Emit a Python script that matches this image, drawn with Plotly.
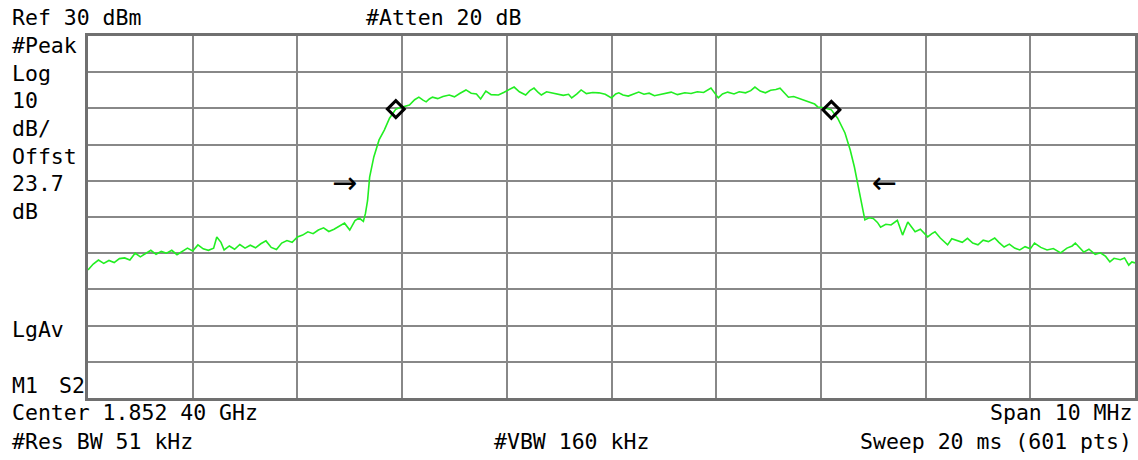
import plotly.graph_objects as go

# ---- data (frequency offset from center, MHz ; level, dBm) ----
freq_mhz = [
    -5.00, -4.95, -4.90, -4.85, -4.80, -4.75, -4.70, -4.65, -4.60, -4.55,
    -4.50, -4.45, -4.40, -4.35, -4.30, -4.25, -4.20, -4.15, -4.10, -4.05,
    -4.00, -3.95, -3.90, -3.85, -3.80, -3.77, -3.73, -3.70, -3.65, -3.60,
    -3.55, -3.50, -3.45, -3.40, -3.35, -3.30, -3.25, -3.20, -3.15, -3.10,
    -3.05, -3.00, -2.95, -2.90, -2.85, -2.80, -2.75, -2.70, -2.65, -2.60,
    -2.55, -2.50, -2.45, -2.41, -2.37, -2.35, -2.33, -2.31, -2.27, -2.22,
    -2.17, -2.12, -2.06, -2.03, -1.98, -1.93, -1.88, -1.84, -1.80, -1.77,
    -1.74, -1.71, -1.66, -1.61, -1.55, -1.50, -1.45, -1.39, -1.34, -1.29,
    -1.25, -1.20, -1.15, -1.08, -1.03, -0.98, -0.93, -0.88, -0.82, -0.78,
    -0.74, -0.70, -0.67, -0.62, -0.57, -0.52, -0.46, -0.41, -0.38, -0.33,
    -0.29, -0.24, -0.18, -0.12, -0.06, 0.00, 0.04, 0.07, 0.11, 0.16,
    0.21, 0.26, 0.31, 0.36, 0.41, 0.45, 0.51, 0.57, 0.63, 0.70,
    0.76, 0.82, 0.88, 0.95, 1.02, 1.06, 1.11, 1.17, 1.22, 1.28,
    1.33, 1.37, 1.42, 1.47, 1.52, 1.57, 1.61, 1.65, 1.69, 1.74,
    1.80, 1.85, 1.90, 1.94, 1.97, 2.03, 2.10, 2.16, 2.23, 2.28,
    2.32, 2.37, 2.42, 2.46, 2.50, 2.54, 2.57, 2.62, 2.67, 2.73,
    2.78, 2.83, 2.87, 2.90, 2.95, 3.02, 3.06, 3.09, 3.14, 3.21,
    3.25, 3.30, 3.35, 3.40, 3.45, 3.50, 3.55, 3.60, 3.66, 3.70,
    3.75, 3.80, 3.85, 3.90, 3.95, 4.00, 4.04, 4.10, 4.16, 4.22,
    4.29, 4.35, 4.40, 4.43, 4.47, 4.51, 4.56, 4.62, 4.67, 4.72,
    4.76, 4.80, 4.86, 4.90, 4.94, 4.97, 5.00,
]
level_dbm = [
    -34.6, -33.0, -31.9, -32.8, -32.0, -32.6, -31.5, -31.3, -31.9, -30.0,
    -31.0, -30.2, -29.2, -30.3, -29.5, -30.0, -29.2, -30.4, -29.5, -28.6,
    -29.4, -27.7, -28.8, -29.2, -28.6, -25.5, -27.0, -29.1, -28.0, -28.9,
    -27.6, -28.6, -27.8, -28.5, -27.4, -26.6, -28.4, -29.0, -27.2, -26.5,
    -27.0, -25.5, -25.0, -24.1, -24.6, -23.6, -23.0, -24.0, -23.4, -22.5,
    -21.7, -23.6, -21.0, -20.3, -21.2, -19.0, -15.5, -9.0, -3.4, 1.3,
    4.0, 7.3, 9.8, 10.1, 10.6, 10.9, 12.4, 13.1, 12.3, 11.8,
    12.6, 13.1, 12.7, 13.3, 13.7, 13.2, 14.1, 15.1, 14.2, 14.0,
    12.6, 14.8, 13.8, 13.7, 14.4, 15.2, 15.9, 14.6, 13.7, 14.9,
    15.6, 14.4, 13.7, 14.6, 14.3, 14.0, 13.6, 13.9, 12.9, 14.0,
    15.1, 14.1, 14.4, 14.3, 13.9, 12.9, 14.0, 14.3, 13.7, 13.4,
    14.0, 14.5, 13.9, 14.2, 13.5, 13.7, 14.2, 14.5, 13.8, 14.3,
    14.1, 14.6, 14.4, 15.6, 12.9, 14.0, 14.5, 14.0, 14.6, 14.3,
    14.9, 15.9, 14.8, 14.3, 15.0, 15.2, 15.6, 14.4, 13.1, 13.3,
    12.7, 12.3, 11.8, 11.2, 10.4, 10.2, 9.6, 7.3, 3.2, -1.5,
    -6.2, -13.4, -20.8, -20.2, -20.4, -21.5, -22.8, -22.0, -22.2, -20.9,
    -25.0, -21.4, -23.0, -24.1, -23.4, -25.5, -24.6, -24.1, -25.8, -27.7,
    -26.0, -26.4, -27.0, -25.9, -27.2, -27.7, -26.4, -26.8, -25.8, -27.0,
    -28.3, -27.5, -28.6, -29.1, -28.2, -28.8, -27.2, -28.4, -29.1, -28.7,
    -29.9, -28.6, -28.0, -27.2, -28.4, -29.7, -28.9, -30.3, -29.9, -30.9,
    -32.4, -31.4, -31.8, -31.3, -33.3, -32.4, -32.7,
]

marker_freq = [-2.06, 2.10]
marker_level = [9.8, 9.6]

arrow_freq = [-2.55, 2.61]
arrow_level = [-10.6, -10.6]
arrow_text = ["\u2192", "\u2190"]

x_range = [-5, 5]
y_range = [-70, 30]

# ---- layout geometry (pixels) ----
W, H = 1138, 460
PL, PR, PT, PB = 88, 1138, 36, 398


def px(x):
    return (x - PL) / (PR - PL)


def py(y):
    return (PB - y) / (PB - PT)


fig = go.Figure()
fig.add_trace(go.Scatter(
    x=freq_mhz, y=level_dbm, mode="lines",
    line=dict(color="#22ee22", width=1.6), hoverinfo="skip",
))
fig.add_trace(go.Scatter(
    x=marker_freq, y=marker_level, mode="markers",
    marker=dict(symbol="diamond-open", size=13, color="black",
                line=dict(color="black", width=3)),
    hoverinfo="skip",
))

MONO = "DejaVu Sans Mono"
FS = 21.5
labels_left = [
    ("Ref 30 dBm", 10, 17),
    ("#Atten 20 dB", 365, 17),
    ("#Peak", 10, 45),
    ("Log", 10, 73),
    ("10", 10, 100),
    ("dB/", 10, 128),
    ("Offst", 10, 156),
    ("23.7", 10, 183),
    ("dB", 10, 211),
    ("LgAv", 10, 329),
    ("M1", 10, 385),
    ("S2", 57, 385),
    ("Center 1.852 40 GHz", 10, 412),
    ("#Res BW 51 kHz", 10, 442),
    ("#VBW 160 kHz", 493, 442),
]
labels_right = [
    ("Span 10 MHz", 1137, 412),
    ("Sweep 20 ms (601 pts)", 1137, 442),
]
anns = []
for t, x, y in labels_left:
    anns.append(dict(text=t, x=px(x), y=py(y), xref="paper", yref="paper",
                     xanchor="left", yanchor="middle", showarrow=False,
                     font=dict(family=MONO, size=FS, color="black")))
for t, x, y in labels_right:
    anns.append(dict(text=t, x=px(x), y=py(y), xref="paper", yref="paper",
                     xanchor="right", yanchor="middle", showarrow=False,
                     font=dict(family=MONO, size=FS, color="black")))
for f, l, t in zip(arrow_freq, arrow_level, arrow_text):
    anns.append(dict(text=t, x=f, y=l, xref="x", yref="y",
                     xanchor="center", yanchor="middle", showarrow=False,
                     font=dict(family="DejaVu Sans", size=30, color="black")))

axis_common = dict(
    showticklabels=False, ticks="", zeroline=False,
    showgrid=True, gridcolor="#888888", gridwidth=2,
    showline=True, linecolor="#707070", linewidth=3, mirror=True,
)
fig.update_xaxes(range=x_range, dtick=1, tick0=-5, **axis_common)
fig.update_yaxes(range=y_range, dtick=10, tick0=-70, **axis_common)

fig.update_layout(
    width=W, height=H,
    margin=dict(l=PL, r=W - PR, t=PT, b=H - PB, pad=0),
    paper_bgcolor="white", plot_bgcolor="white",
    showlegend=False, annotations=anns,
)

fig.write_html(
    "out.html",
    config={"displayModeBar": False, "staticPlot": True},
    post_script="document.body.style.margin='0';document.body.style.overflow='hidden';",
)
